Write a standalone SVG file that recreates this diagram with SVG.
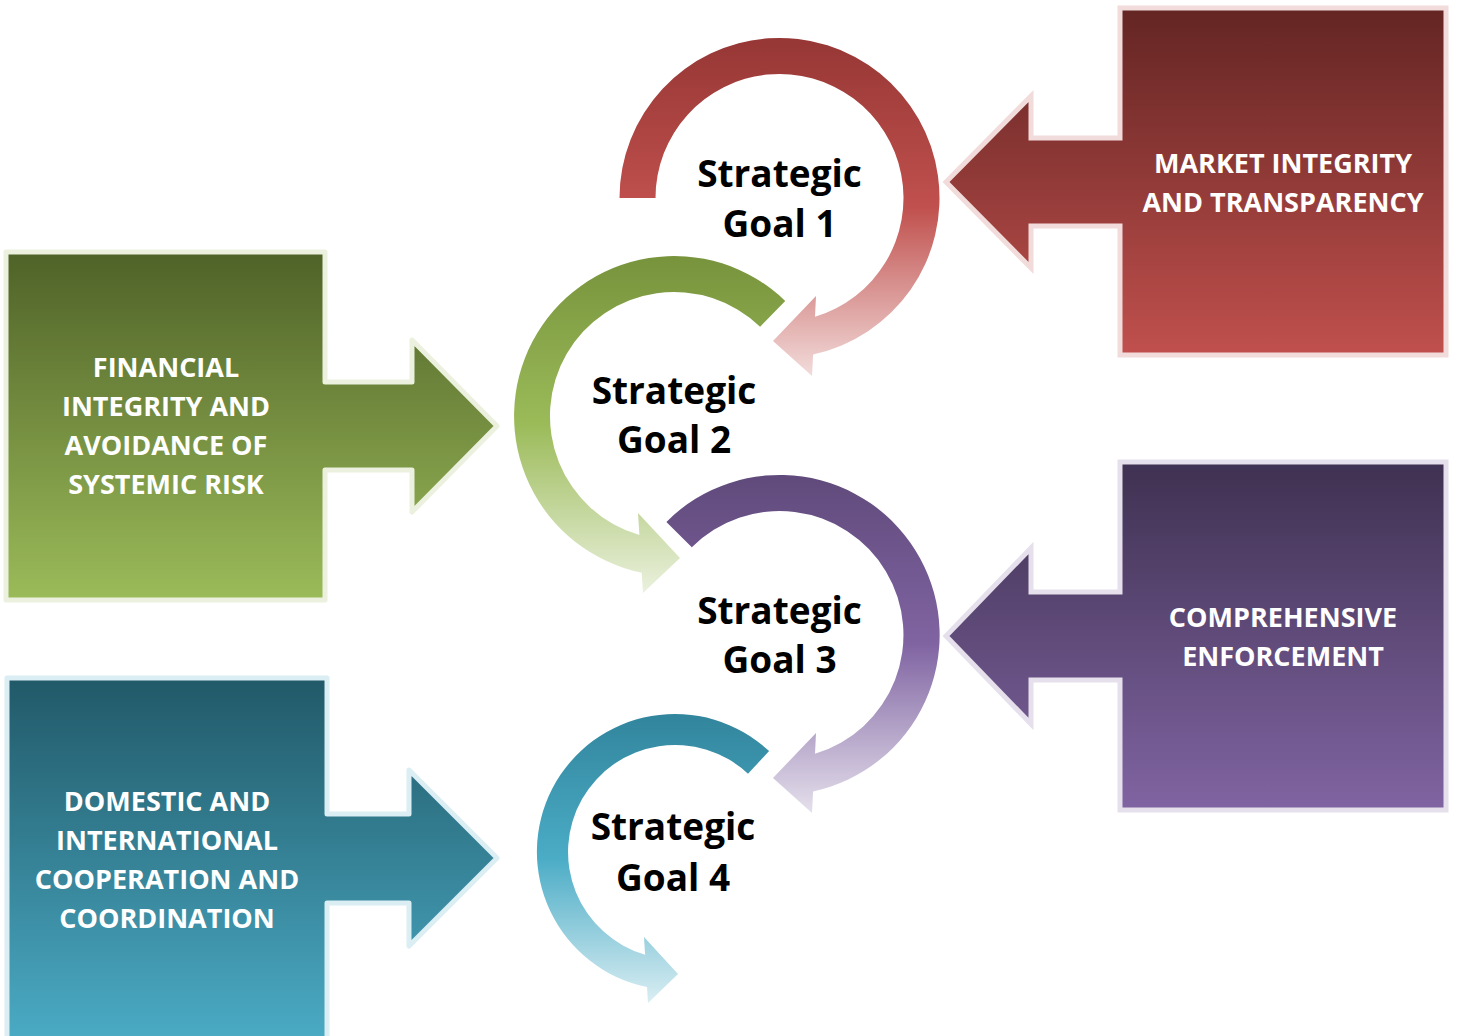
<svg xmlns="http://www.w3.org/2000/svg" width="1458" height="1036" viewBox="0 0 1458 1036">
<defs>
<linearGradient id="gRedBox" x1="0" y1="0" x2="0" y2="1"><stop offset="0" stop-color="#632523"/><stop offset="1" stop-color="#c0504d"/></linearGradient>
<linearGradient id="gGreenBox" x1="0" y1="0" x2="0" y2="1"><stop offset="0" stop-color="#4f6228"/><stop offset="1" stop-color="#9bbb59"/></linearGradient>
<linearGradient id="gPurpleBox" x1="0" y1="0" x2="0" y2="1"><stop offset="0" stop-color="#3f3151"/><stop offset="1" stop-color="#8064a2"/></linearGradient>
<linearGradient id="gTealBox" x1="0" y1="0" x2="0" y2="1"><stop offset="0" stop-color="#215968"/><stop offset="1" stop-color="#4bacc6"/></linearGradient>
<linearGradient id="gRedRing" x1="0" y1="0" x2="0" y2="1"><stop offset="0" stop-color="#963735"/><stop offset="0.5" stop-color="#c0504d"/><stop offset="1" stop-color="#f2dcdb"/></linearGradient>
<linearGradient id="gGreenRing" x1="0" y1="0" x2="0" y2="1"><stop offset="0" stop-color="#77933c"/><stop offset="0.5" stop-color="#9bbb59"/><stop offset="1" stop-color="#ebf1de"/></linearGradient>
<linearGradient id="gPurpleRing" x1="0" y1="0" x2="0" y2="1"><stop offset="0" stop-color="#604a7b"/><stop offset="0.5" stop-color="#8064a2"/><stop offset="1" stop-color="#e5e0ec"/></linearGradient>
<linearGradient id="gTealRing" x1="0" y1="0" x2="0" y2="1"><stop offset="0" stop-color="#31859c"/><stop offset="0.5" stop-color="#4bacc6"/><stop offset="1" stop-color="#daeef3"/></linearGradient>
</defs>
<style>
.box{stroke-width:5}
.boxText{font-family:"Open Sans","Liberation Sans",sans-serif;font-weight:bold;font-size:27px;fill:#ffffff;text-anchor:middle}
.goalText{font-family:"Open Sans","Liberation Sans",sans-serif;font-weight:bold;font-size:37px;fill:#000000;text-anchor:middle}
</style>
<rect width="1458" height="1036" fill="#ffffff"/>

<g id="callout-market">
<path class="box" d="M1120,8 H1446 V355 H1120 V226 H1031 V268 L946,182 L1031,96 V138 H1120 Z" fill="url(#gRedBox)" stroke="#f2dcdb" stroke-linejoin="miter"/>
<text class="boxText" x="1283" y="173">MARKET INTEGRITY</text>
<text class="boxText" x="1283" y="212">AND TRANSPARENCY</text>
</g>

<g id="callout-financial">
<path class="box" d="M6,252 H325 V382 H412 V340 L497,426 L412,512 V470 H325 V600 H6 Z" fill="url(#gGreenBox)" stroke="#ebf1de" stroke-linejoin="round"/>
<text class="boxText" x="166" y="377">FINANCIAL</text>
<text class="boxText" x="166" y="416">INTEGRITY AND</text>
<text class="boxText" x="166" y="455">AVOIDANCE OF</text>
<text class="boxText" x="166" y="494">SYSTEMIC RISK</text>
</g>

<g id="callout-enforcement">
<path class="box" d="M1120,462 H1446 V810 H1120 V680 H1031 V724 L946,636 L1031,548 V592 H1120 Z" fill="url(#gPurpleBox)" stroke="#e5e0ec" stroke-linejoin="miter"/>
<text class="boxText" x="1283" y="627">COMPREHENSIVE</text>
<text class="boxText" x="1283" y="666">ENFORCEMENT</text>
</g>

<g id="callout-cooperation">
<path class="box" d="M7,678 H327 V814 H409 V770 L497,858 L409,946 V903 H327 V1046 H7 Z" fill="url(#gTealBox)" stroke="#daeef3" stroke-linejoin="round"/>
<text class="boxText" x="167" y="811">DOMESTIC AND</text>
<text class="boxText" x="167" y="850">INTERNATIONAL</text>
<text class="boxText" x="167" y="889">COOPERATION AND</text>
<text class="boxText" x="167" y="928">COORDINATION</text>
</g>

<g id="connectors"></g>

<g id="goal-1">
<path d="M619.5,198 A160,160 0 1 1 813.1,354.4 L812,376 L773,341 L816,296 L815,316.8 A124,124 0 1 0 655.5,198 Z" fill="url(#gRedRing)"/>
<text class="goalText" x="779.5" y="187">Strategic</text>
<text class="goalText" x="779.5" y="237">Goal 1</text>
</g>

<g id="goal-2">
<path d="M785.2,300.9 A160,160 0 1 0 641.7,572.7 L643,593 L680,558 L638,513 L639.4,535.1 A124,124 0 1 1 760.1,326.8 Z" fill="url(#gGreenRing)"/>
<text class="goalText" x="674" y="404">Strategic</text>
<text class="goalText" x="674" y="453">Goal 2</text>
</g>

<g id="goal-3">
<path d="M666.4,521.9 A160,160 0 1 1 813.1,791.4 L812,813 L773,778 L816,733 L815,753.8 A124,124 0 1 0 691.8,547.3 Z" fill="url(#gPurpleRing)"/>
<text class="goalText" x="779.5" y="624">Strategic</text>
<text class="goalText" x="779.5" y="673">Goal 3</text>
</g>

<g id="goal-4">
<path d="M769.1,751.1 A138,138 0 1 0 647,987.1 L648,1003 L678,974 L644,937 L645.1,954.7 A107,107 0 1 1 748,773.7 Z" fill="url(#gTealRing)"/>
<text class="goalText" x="673" y="840">Strategic</text>
<text class="goalText" x="673" y="891">Goal 4</text>
</g>
</svg>
